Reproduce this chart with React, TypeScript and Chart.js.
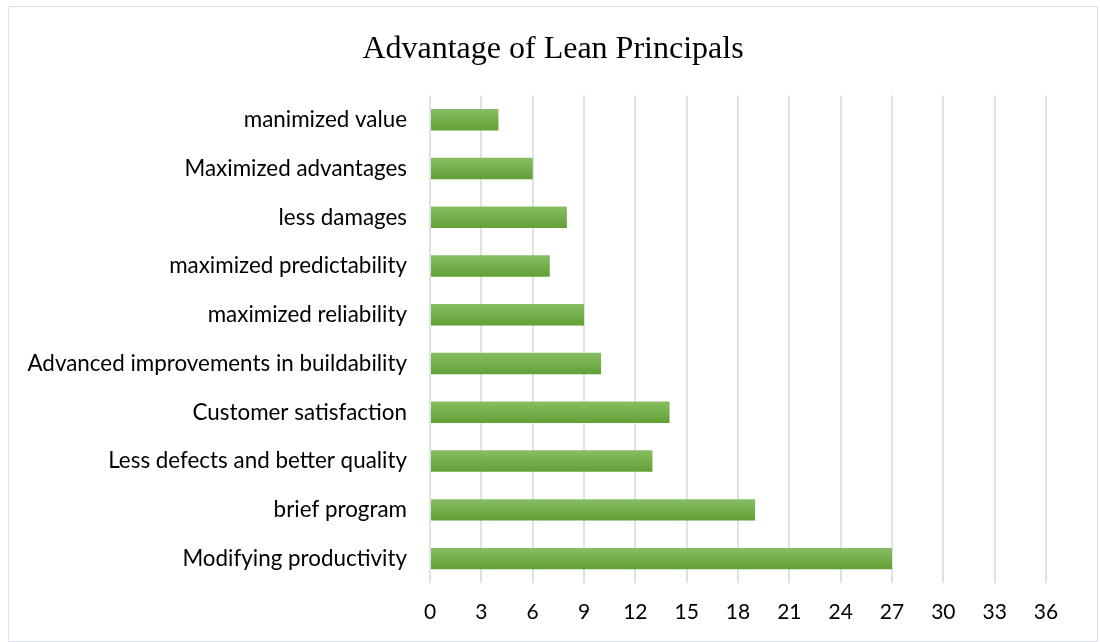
import React, { useEffect, useRef } from "react";
import { Chart, registerables } from "chart.js";

Chart.register(...registerables);

const categories = [
  "manimized value",
  "Maximized advantages",
  "less damages",
  "maximized predictability",
  "maximized reliability",
  "Advanced improvements in buildability",
  "Customer satisfaction",
  "Less defects and better quality",
  "brief program",
  "Modifying productivity",
];
const values = [4, 6, 8, 7, 9, 10, 14, 13, 19, 27];
const titleText = "Advantage of Lean Principals";
const xMin = 0;
const xMax = 36;
const xStep = 3;

const CANVAS_W = 1088;
const CANVAS_H = 634;

export default function App() {
  const ref = useRef<HTMLCanvasElement | null>(null);

  useEffect(() => {
    if (!ref.current) return;
    const chart = new Chart(ref.current, {
      type: "bar",
      data: {
        labels: categories,
        datasets: [
          {
            data: values,
            backgroundColor: (ctx: any) => {
              const c = ctx.chart;
              const ys = c.scales && c.scales.y;
              if (!ys || ctx.dataIndex === undefined) return "#72ae48";
              const center = ys.getPixelForValue(ctx.dataIndex);
              if (!Number.isFinite(center)) return "#72ae48";
              const h = 22;
              const g = c.ctx.createLinearGradient(0, center - h / 2, 0, center + h / 2);
              g.addColorStop(0, "#89be64");
              g.addColorStop(1, "#60a034");
              return g;
            },
            borderWidth: 0,
            barPercentage: 0.44,
            categoryPercentage: 1,
          },
        ],
      },
      options: {
        indexAxis: "y",
        animation: false,
        responsive: false,
        maintainAspectRatio: false,
        layout: { padding: 0 },
        plugins: {
          legend: { display: false },
          tooltip: { enabled: false },
          title: {
            display: true,
            text: titleText,
            color: "#000000",
            font: { family: "'Liberation Serif', 'DejaVu Serif', serif", size: 32, weight: "normal" },
            padding: { top: 23, bottom: 27 },
          },
        },
        scales: {
          x: {
            min: xMin,
            max: xMax,
            ticks: {
              stepSize: xStep,
              color: "#000000",
              padding: 17,
              font: { family: "Lato, 'Noto Sans', sans-serif", size: 21 },
            },
            grid: { color: "#dde1e8", lineWidth: 2, drawTicks: false },
            border: { display: false },
            afterFit: (s: any) => {
              s.height = 58;
            },
          },
          y: {
            ticks: {
              color: "#000000",
              padding: 23,
              font: { family: "Lato, 'Noto Sans', sans-serif", size: 22.4 },
            },
            grid: { display: false, drawTicks: false },
            border: { display: false },
            afterFit: (s: any) => {
              s.width = 421;
            },
          },
          spacer: {
            type: "linear",
            position: "right",
            display: true,
            ticks: { display: false },
            grid: { display: false, drawTicks: false },
            border: { display: false },
            afterFit: (s: any) => {
              s.width = 51;
            },
          },
        },
      },
    });
    return () => chart.destroy();
  }, []);

  return (
    <div
      style={{
        position: "absolute",
        left: 8,
        top: 6,
        width: CANVAS_W,
        height: CANVAS_H,
        border: "1px solid #dde1e8",
        background: "#ffffff",
      }}
    >
      <canvas ref={ref} width={CANVAS_W} height={CANVAS_H} style={{ display: "block" }} />
    </div>
  );
}
